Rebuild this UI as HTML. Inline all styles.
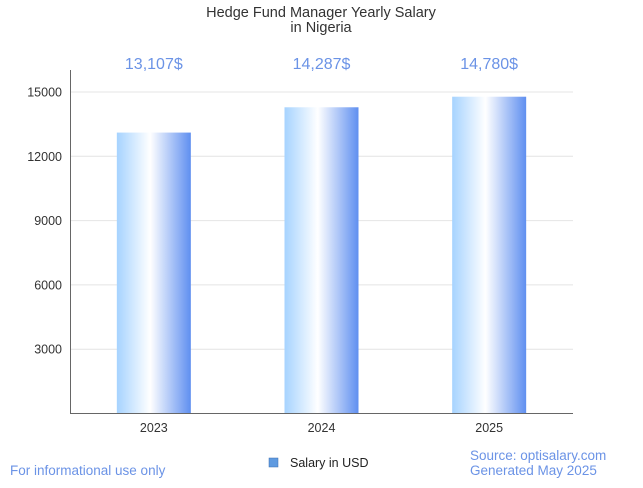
<!DOCTYPE html>
<html><head><meta charset="utf-8"><style>
body{margin:0;background:#fff;font-family:"Liberation Sans",sans-serif;}
svg text{font-family:"Liberation Sans",sans-serif;}
</style></head><body>
<svg width="643" height="483" xmlns="http://www.w3.org/2000/svg">
<defs>
<linearGradient id="bg" x1="0" x2="1" y1="0" y2="0">
<stop offset="0" stop-color="#a6d3ff"/>
<stop offset="0.45" stop-color="#ffffff"/>
<stop offset="1" stop-color="#5f8ff0"/>
</linearGradient>
</defs>
<text x="321" y="17" text-anchor="middle" font-size="14.5" fill="#333">Hedge Fund Manager Yearly Salary</text>
<text x="321" y="32" text-anchor="middle" font-size="14.5" fill="#333">in Nigeria</text>
<g id="grid"></g>
<g id="bars"></g>
<line x1="70.5" y1="70" x2="70.5" y2="413.5" stroke="#666"/>
<line x1="70" y1="413.5" x2="573" y2="413.5" stroke="#666"/>
<rect x="269" y="458" width="9" height="9" fill="#5f9ae0" stroke="#3a6fb0" stroke-width="0.5"/>
<text x="290" y="467" font-size="12.5" fill="#222">Salary in USD</text>
<text x="10" y="475" font-size="13.5" fill="#6b93e6">For informational use only</text>
<text x="470" y="460" font-size="13.5" fill="#6b93e6">Source: optisalary.com</text>
<text x="470" y="475" font-size="13.5" fill="#6b93e6">Generated May 2025</text>
</svg>
<script>
const categories = ["2023","2024","2025"];
const salaries = [13107, 14287, 14780];
const valueLabels = ["13,107$","14,287$","14,780$"];
const yTicks = [3000, 6000, 9000, 12000, 15000];
const NS="http://www.w3.org/2000/svg";
const x0=70, x1=573, yBase=413.5, yTop15=92;
function y(v){return yBase-(v/15000)*(yBase-yTop15);}
const band=(x1-x0)/categories.length;
function xc(i){return x0+band*(i+0.5);}
const grid=document.getElementById('grid'), bars=document.getElementById('bars');
function mk(tag,attrs,parent){const e=document.createElementNS(NS,tag);for(const k in attrs)e.setAttribute(k,attrs[k]);parent.appendChild(e);return e;}
yTicks.forEach(t=>{
 const l=mk('line',{x1:x0,x2:x1,y1:y(t),y2:y(t),stroke:'#e4e4e4'},grid);
 
 
 const tx=mk('text',{x:x0-8,y:y(t)+4.5,'text-anchor':'end','font-size':'12.5',fill:'#333'},grid);
 tx.textContent=t;
 
 
});
categories.forEach((c,i)=>{
 const w=74;
 const r=mk('rect',{x:xc(i)-w/2,y:y(salaries[i]),width:w,height:yBase-y(salaries[i]),fill:'url(#bg)'},bars);
 
 
 const v=mk('text',{x:xc(i),y:69,'text-anchor':'middle','font-size':'16',fill:'#6b93e6'},bars);
 v.textContent=valueLabels[i];
 
 
 const xl=mk('text',{x:xc(i),y:432,'text-anchor':'middle','font-size':'12.5',fill:'#333'},bars);
 xl.textContent=c;
 
 
});
</script>
</body></html>
